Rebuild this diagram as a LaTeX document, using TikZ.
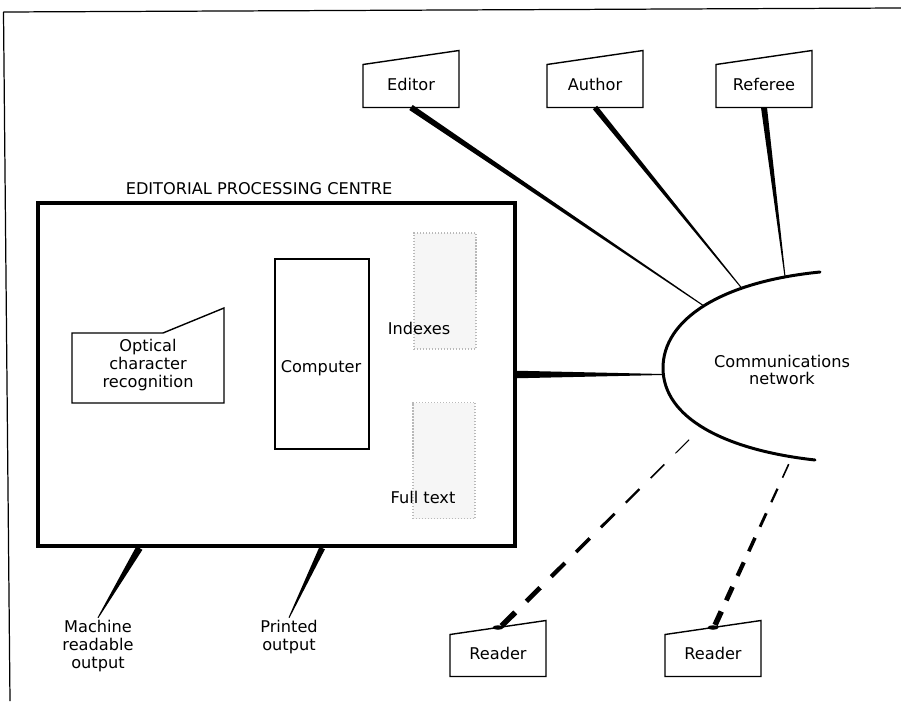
\documentclass[tikz,border=0pt]{standalone}
\usepackage{fontspec}
\setmainfont{DejaVu Sans}
\usepackage{tikz}
\usetikzlibrary{calc,positioning}
\tikzset{
  ep/text/.style={
    align=center, inner sep=0.5mm, outer sep=0pt, font=\fontsize{9.2}{10.2}\selectfont
  },
  ep/role/.style={ep/text, minimum width=19.2mm, minimum height=9.4mm},
  ep/outline/.style={draw=black, line width=0.8pt, line join=miter},
  ep/frame/.style={
    draw=black, line width=2.3pt, inner sep=0pt, minimum width=95.4mm, minimum height=68.6mm
  },
  ep/unit/.style={draw=black, line width=0.8pt, inner sep=0pt},
  ep/store/.style={
    draw=gray!55, densely dotted, fill=gray!7, line width=0.7pt, inner sep=0pt,
    minimum width=12.4mm, minimum height=23.2mm
  },
  ep/net/.style={draw=black, line width=1.7pt, line cap=round},
  ep/wedge/.style={fill=black},
  ep/border/.style={draw=black, line width=0.7pt}
}
\begin{document}
\begin{tikzpicture}[x=1mm, y=1mm]
  \useasboundingbox (0,0) rectangle (180.2,140.2);
  \draw[ep/border] (0.7,137.8) -- (180.2,138.6);
  \draw[ep/border] (0.7,137.8) -- (2.0,0);

  % editorial processing centre
  \node[ep/frame] (epc) at (55.3,65.3) {};
  \node[ep/text] (epc-title) at (51.8,102.4) {EDITORIAL PROCESSING CENTRE};
  \node[ep/text, minimum width=30.4mm, minimum height=15.2mm] (ocr) at (29.6,67.2)
    {Optical\\character\\recognition};
  \draw[ep/outline] (ocr.south west) -- (ocr.south east) -- ++(0,19.0)
    -- ([shift={(18.2,14.0)}]ocr.south west) -- ([yshift=14mm]ocr.south west) -- cycle;
  \node[ep/unit, minimum width=18.8mm, minimum height=38mm] (computer) at (64.4,69.4) {};
  \node[ep/text] at (64.2,66.6) {Computer};
  \node[ep/store] (indexes) at (89.0,82.0) {};
  \node[ep/text] at (83.8,74.6) {Indexes};
  \node[ep/store] (fulltext) at (88.8,48.1) {};
  \node[ep/text] at (84.6,40.8) {Full text};

  \node[ep/text] (mro) at (19.6,11.0) {Machine\\readable\\output};
  \node[ep/text] (pro) at (57.8,12.8) {Printed\\output};
  \coordinate (epc-mr) at ($(epc.south west)!0.215!(epc.south east)$);
  \coordinate (epc-pr) at ($(epc.south west)!0.595!(epc.south east)$);

  % communications network
  \node[ep/text] (net) at (156.4,66.2) {Communications\\network};
  \draw[ep/net] (164.0,85.8) .. controls (144.0,83.8) and (132.6,76.2) .. (132.6,66.6)
    .. controls (132.6,56.6) and (145.0,50.2) .. (163.0,48.2);
  \coordinate (net-epc) at (132.6,65.3);
  \coordinate (net-ed) at (140.8,79.0);
  \coordinate (net-au) at (148.4,82.5);
  \coordinate (net-re) at (157.0,84.9);
  \coordinate (net-r1) at (140.4,54.8);
  \coordinate (net-r2) at (158.4,48.8);

  \foreach \n/\t/\x in {editor/Editor/82.2, author/Author/119.0, referee/Referee/152.8} {
    \node[ep/role] (\n) at (\x,123.4) {\t};
    \draw[ep/outline] (\n.south west) -- (\n.south east) -- ++(0,11.4)
      -- ([yshift=8.6mm]\n.south west) -- cycle;
  }
  \foreach \n/\x in {reader1/99.6, reader2/142.6} {
    \node[ep/role] (\n) at (\x,9.6) {Reader};
    \draw[ep/outline] (\n.south west) -- (\n.south east) -- ++(0,11.2)
      -- ([yshift=8.4mm]\n.south west) -- cycle;
    \fill ([yshift=0.4mm]\n.north) ellipse (1.1 and 0.45);
  }

  \foreach \s/\e/\w in {editor.south/net-ed/0.6, author.south/net-au/0.55,
      referee.south/net-re/0.6, epc.east/net-epc/0.75, epc-mr/mro.north/0.7,
      epc-pr/pro.north/0.6}
    \fill[ep/wedge] ($(\s)!\w mm!90:(\e)$) -- ($(\e)!0.1mm!-90:(\s)$)
      -- ($(\e)!0.1mm!90:(\s)$) -- ($(\s)!\w mm!-90:(\e)$) -- cycle;

  \foreach \r/\e/\p/\k in {reader1/net-r1/7.0/7, reader2/net-r2/5.4/6}
    \foreach \i in {0,...,\k} {
      \pgfmathsetmacro{\dfrom}{\i*\p+1.0}
      \pgfmathsetmacro{\dto}{\i*\p+1.0+0.55*\p}
      \pgfmathsetmacro{\dwd}{1.1-0.13*\i}
      \draw[line width=\dwd mm] ($(\r.north)!\dfrom mm!(\e)$) -- ($(\r.north)!\dto mm!(\e)$);
    }
\end{tikzpicture}
\end{document}
